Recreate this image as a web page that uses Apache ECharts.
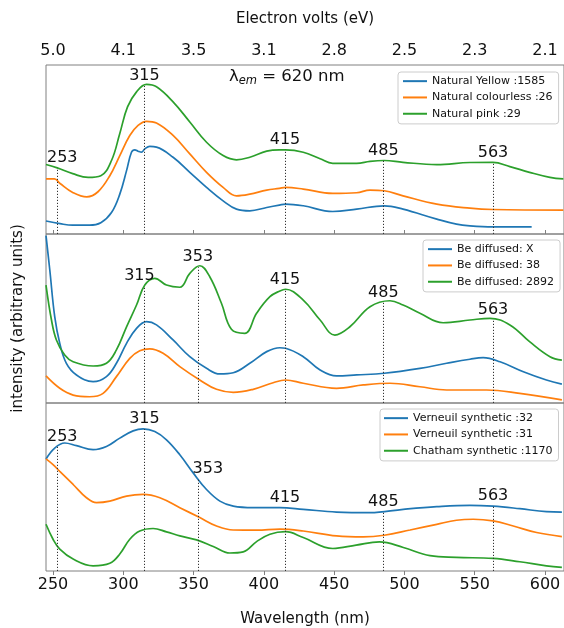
<!DOCTYPE html>
<html>
<head>
<meta charset="utf-8">
<script src="https://cdn.jsdelivr.net/npm/echarts@6/dist/echarts.min.js"></script>
<style>
  html, body { margin: 0; padding: 0; background: #ffffff; }
  #chart { width: 564px; height: 628px; }
</style>
</head>
<body>
<div id="chart"></div>
<script>
// Excitation spectra (emission at 620 nm), three groups of samples.
// Each series: [wavelength nm, intensity in arbitrary units (0-100 per panel)]

// Natural samples
const naturalYellow = [[245,7.7],[255,6.1],[264,5.2],[276,5.2],[284,6.7],[291.6,12.7],[297.5,23.6],[302.3,37.5],[305.8,48.4],[308.2,49.8],[310.5,49.0],[312.9,48.4],[315.3,50.4],[318.8,51.8],[323.6,51.4],[335.4,45.4],[347.3,36.5],[359.2,27.6],[371,19.6],[380.5,14.7],[390,13.7],[402,15.7],[411,17.1],[415.4,17.7],[428,16.7],[449,13.3],[466,14.7],[485.6,16.7],[499,14.7],[523,8.8],[537,5.8],[546.6,4.8],[563,4.2],[590.5,4.2]];
const naturalColourless = [[245,32.6],[251,32.6],[255,29.9],[264,24.6],[274,22.0],[282,25.0],[290.4,34.5],[297.5,46.4],[304.6,58.3],[310.5,64.3],[316.5,66.7],[323.6,65.7],[335.4,58.3],[347.3,47.4],[359.2,36.5],[371,27.6],[380.5,22.6],[390,23.6],[402,26.0],[411,27.0],[415.4,27.6],[428,26.6],[449,24.0],[466,24.4],[475.5,26.0],[485.6,25.6],[499,22.6],[523,17.7],[546.6,15.3],[563,14.5],[613,14.1]];
const naturalPink = [[245,41.1],[253,39.1],[264,35.7],[275,33.5],[284,34.5],[291.6,43.5],[297.5,59.5],[303,75.2],[309.4,84.1],[316.5,88.5],[323.6,87.1],[335.4,78.2],[347.3,66.3],[359.2,54.3],[371,46.4],[380.5,43.9],[390,45.4],[402,49.0],[411,49.8],[415.4,49.8],[428,48.4],[440,44.5],[449,41.8],[466,41.8],[475.5,43.0],[485.6,43.5],[499,42.4],[523,41.1],[546.6,42.3],[563,42.4],[575,39.9],[589,36.5],[603.5,33.5],[613,32.6]];

// Be diffused samples
const beDiffusedX = [[245,99.0],[247.7,78.7],[251.2,51.1],[254.8,35.3],[259.5,23.5],[266.7,16.6],[278.5,12.6],[288,15.6],[295.1,23.5],[302.3,35.3],[309.4,44.2],[316.5,48.1],[323.6,46.2],[335.4,37.3],[347.3,27.4],[359.2,20.5],[368.7,17.2],[378.2,17.9],[390,23.5],[402,30.4],[411.4,32.7],[415.4,32.4],[428,27.4],[440,19.5],[451.7,16.0],[466,16.6],[485.6,17.6],[511,20.5],[530,23.5],[546.6,25.9],[556,26.8],[568,24.4],[584.6,18.5],[601,13.6],[612,11.2]];
const beDiffused38 = [[245,16.0],[254.8,8.7],[264.3,4.7],[276,3.7],[285.6,5.7],[295.1,15.6],[304.6,26.4],[311.7,30.9],[318.8,32.0],[328.3,29.4],[340.2,21.5],[354.4,13.6],[366.3,8.1],[378.2,6.3],[392.4,8.1],[406.6,12.0],[415.4,13.6],[428,11.7],[451.7,8.7],[470.7,10.7],[489.7,11.7],[511,9.6],[530,7.7],[558.4,7.7],[582,5.7],[612,1.8]];
const beDiffused2892 = [[245,69.8],[248.9,49.1],[252.4,37.3],[258.3,28.4],[264.3,24.4],[278.5,21.9],[288,23.5],[295.1,31.4],[302.3,45.1],[309.4,58.0],[315.3,69.8],[322.4,73.8],[330.7,69.8],[340.2,68.5],[347.3,76.7],[354.4,81.2],[361.5,74.7],[369.8,59.0],[376.9,43.6],[386.4,41.2],[394.8,53.1],[404.3,62.9],[411.4,66.3],[415.4,67.3],[428,60.9],[440,49.1],[450.5,40.2],[461.2,45.1],[475.5,57.0],[489.7,60.5],[499,58.0],[511,53.1],[527.5,47.5],[546.6,49.1],[560.8,50.1],[575,46.2],[589,36.3],[603.5,27.4],[612,25.4]];

// Synthetic samples
const verneuil32 = [[245,66.7],[251.2,73.2],[258.3,76.2],[266.7,74.6],[278.5,72.2],[288,74.1],[297.5,79.1],[307,83.4],[314.1,84.6],[322.4,83.0],[330.7,78.1],[340.2,69.2],[349.7,58.4],[359.2,48.5],[368.7,41.6],[378.2,38.6],[392.4,37.7],[411.4,37.7],[428,36.7],[451.7,35.1],[475.5,34.7],[499.2,36.7],[523,38.3],[546.6,39.1],[563,38.6],[582,37.1],[601,35.3],[612,35.1]];
const verneuil31 = [[245,66.7],[250,63.3],[254.8,59.3],[264.3,51.5],[273.8,43.6],[280.9,40.7],[290.4,41.6],[302.3,44.6],[314.1,45.6],[326,43.6],[340.2,37.7],[354.4,31.8],[366.3,26.8],[378.2,24.4],[394.8,24.3],[411.4,24.9],[428,23.8],[451.7,20.9],[470.7,20.3],[485.6,21.3],[504,24.4],[523,27.8],[537,30.2],[549,30.8],[563,29.8],[577.4,26.8],[594,22.9],[612,20.5]];
const chatham1170 = [[245,27.8],[250,18.9],[254.8,13.0],[264.3,7.1],[278.5,3.1],[290.4,4.6],[297.5,10.1],[304.6,18.9],[311.7,23.8],[321.2,25.3],[330.7,23.3],[340.2,20.9],[352.1,18.5],[364,14.6],[375.8,10.7],[385.3,11.4],[394.8,17.5],[404.3,21.9],[415.4,23.4],[428,19.9],[449,13.4],[465.6,15.4],[482.2,17.3],[499.2,14.0],[518.2,9.1],[537,8.1],[563,7.5],[582,5.5],[601,3.1],[612,2.2]];

// Marked peak wavelengths per panel
const peaksNatural = [253, 315, 415, 485, 563];
const peaksBe = [315, 353, 415, 485, 563];
const peaksSynthetic = [253, 315, 353, 415, 485, 563];

// Axis ticks: wavelength (bottom) and photon energy labels (top)
const wavelengthTicks = [250, 300, 350, 400, 450, 500, 550, 600];
const electronVoltLabels = ['5.0', '4.1', '3.5', '3.1', '2.8', '2.5', '2.3', '2.1'];

const FONT = 'DejaVu Sans';
const TEXT = '#111111';
const SPINE = '#808080';
const BLUE = '#1f77b4', ORANGE = '#ff7f0e', GREEN = '#2ca02c';
const X_MIN = 245, X_MAX = 613.5;

// value of a sampled curve at a wavelength (linear between samples)
function valueAt(points, nm) {
  for (let i = 1; i < points.length; i++) {
    const [x0, y0] = points[i - 1], [x1, y1] = points[i];
    if (nm >= x0 && nm <= x1) return y0 + (y1 - y0) * (nm - x0) / (x1 - x0);
  }
  return points[points.length - 1][1];
}

// dotted guide from panel floor up to the upper curve, labelled with the wavelength
function peakGuides(peaks, curve, shifts) {
  return {
    silent: true,
    symbol: ['none', 'none'],
    animation: false,
    lineStyle: { type: [1.2, 1.8], color: '#333333', width: 1 },
    label: {
      show: true, position: 'end', distance: 2,
      fontSize: 16, fontFamily: FONT, color: TEXT,
      formatter: p => String(p.data.nm)
    },
    data: peaks.map(nm => [
      { coord: [nm, 0], nm: nm, label: { offset: shifts[nm] || [0, 0] } },
      { coord: [nm, valueAt(curve, nm)] }
    ])
  };
}

function line(name, data, color, xi, extra) {
  return Object.assign({
    name: name, type: 'line', data: data,
    xAxisIndex: xi, yAxisIndex: xi,
    smooth: 0.4,
    showSymbol: false, symbol: 'none',
    clip: true,
    lineStyle: { color: color, width: 1.7 },
    itemStyle: { color: color },
    emphasis: { disabled: true }
  }, extra || {});
}

function hiddenX(i) {
  return { gridIndex: i, type: 'value', min: X_MIN, max: X_MAX, show: false };
}
function hiddenY(i, extra) {
  return Object.assign({
    gridIndex: i, type: 'value', min: 0, max: 100,
    axisLine: { show: false }, axisTick: { show: false },
    axisLabel: { show: false }, splitLine: { show: false }
  }, extra || {});
}

const gridBase = { left: 46, width: 519, show: true, borderColor: SPINE, borderWidth: 1, backgroundColor: 'transparent' };

const legendBase = {
  orient: 'vertical',
  icon: 'rect', itemWidth: 24, itemHeight: 2, itemGap: 4,
  backgroundColor: 'rgba(255,255,255,0.85)',
  borderColor: '#cccccc', borderWidth: 1, borderRadius: 3,
  textStyle: { fontSize: 11, fontFamily: FONT, color: TEXT, lineHeight: 12.3 },
  selectedMode: false
};

const option = {
  animation: false,
  backgroundColor: '#ffffff',
  grid: [
    Object.assign({ top: 65, height: 169 }, gridBase),
    Object.assign({ top: 234, height: 169 }, gridBase),
    Object.assign({ top: 403, height: 169 }, gridBase)
  ],
  xAxis: [
    {
      gridIndex: 0, type: 'value', min: X_MIN, max: X_MAX, position: 'top',
      axisLine: { show: false }, splitLine: { show: false },
      axisTick: { show: true, inside: false, length: 4, customValues: wavelengthTicks, lineStyle: { color: SPINE } },
      axisLabel: {
        customValues: wavelengthTicks, margin: 6,
        fontSize: 16, fontFamily: FONT, color: TEXT,
        formatter: v => electronVoltLabels[wavelengthTicks.indexOf(v)]
      },
      name: 'Electron volts (eV)', nameLocation: 'middle', nameGap: 38,
      nameTextStyle: { fontSize: 15, fontFamily: FONT, color: TEXT }
    },
    hiddenX(1),
    {
      gridIndex: 2, type: 'value', min: X_MIN, max: X_MAX, position: 'bottom',
      axisLine: { show: false }, splitLine: { show: false },
      axisTick: { show: true, inside: false, length: 4, customValues: wavelengthTicks, lineStyle: { color: SPINE } },
      axisLabel: {
        customValues: wavelengthTicks, margin: 6,
        fontSize: 16, fontFamily: FONT, color: TEXT
      },
      name: 'Wavelength (nm)', nameLocation: 'middle', nameGap: 41,
      nameTextStyle: { fontSize: 15, fontFamily: FONT, color: TEXT }
    }
  ],
  yAxis: [
    hiddenY(0),
    hiddenY(1, {
      name: 'intensity (arbitrary units)', nameLocation: 'middle', nameGap: 20,
      nameTextStyle: { fontSize: 15, fontFamily: FONT, color: TEXT }
    }),
    hiddenY(2)
  ],
  legend: [
    Object.assign({}, legendBase, {
      data: ['Natural Yellow :1585', 'Natural colourless :26', 'Natural pink :29'],
      left: 398, top: 72, padding: [3, 6, 4, 5]
    }),
    Object.assign({}, legendBase, {
      data: ['Be diffused: X', 'Be diffused: 38', 'Be diffused: 2892'],
      left: 423, top: 240, padding: [3, 6, 4, 5]
    }),
    Object.assign({}, legendBase, {
      data: ['Verneuil synthetic :32', 'Verneuil synthetic :31', 'Chatham synthetic :1170'],
      left: 380, top: 409, padding: [3, 6, 4, 4]
    })
  ],
  graphic: [{
    type: 'text', left: 229, top: 68, silent: true,
    style: {
      text: '{a|λ}{b|em}{a| = 620 nm}',
      fill: TEXT,
      rich: {
        a: { fontSize: 16.5, fontFamily: FONT, fill: TEXT, lineHeight: 22, verticalAlign: 'middle' },
        b: { fontSize: 11.5, fontFamily: FONT, fontStyle: 'italic', fill: TEXT, lineHeight: 22, verticalAlign: 'bottom' }
      }
    }
  }],
  series: [
    line('Natural Yellow :1585', naturalYellow, BLUE, 0),
    line('Natural colourless :26', naturalColourless, ORANGE, 0),
    line('Natural pink :29', naturalPink, GREEN, 0, {
      markLine: peakGuides(peaksNatural, naturalPink, { 253: [5, 0] })
    }),

    line('Be diffused: X', beDiffusedX, BLUE, 1),
    line('Be diffused: 38', beDiffused38, ORANGE, 1),
    line('Be diffused: 2892', beDiffused2892, GREEN, 1, {
      markLine: peakGuides(peaksBe, beDiffused2892, { 315: [-5, 0] })
    }),

    line('Verneuil synthetic :32', verneuil32, BLUE, 2, {
      markLine: peakGuides(peaksSynthetic, verneuil32, { 253: [5, 0], 353: [10, 0] })
    }),
    line('Verneuil synthetic :31', verneuil31, ORANGE, 2),
    line('Chatham synthetic :1170', chatham1170, GREEN, 2)
  ]
};

const chart = echarts.init(document.getElementById('chart'), null, { renderer: 'canvas' });
chart.setOption(option);
</script>
</body>
</html>
